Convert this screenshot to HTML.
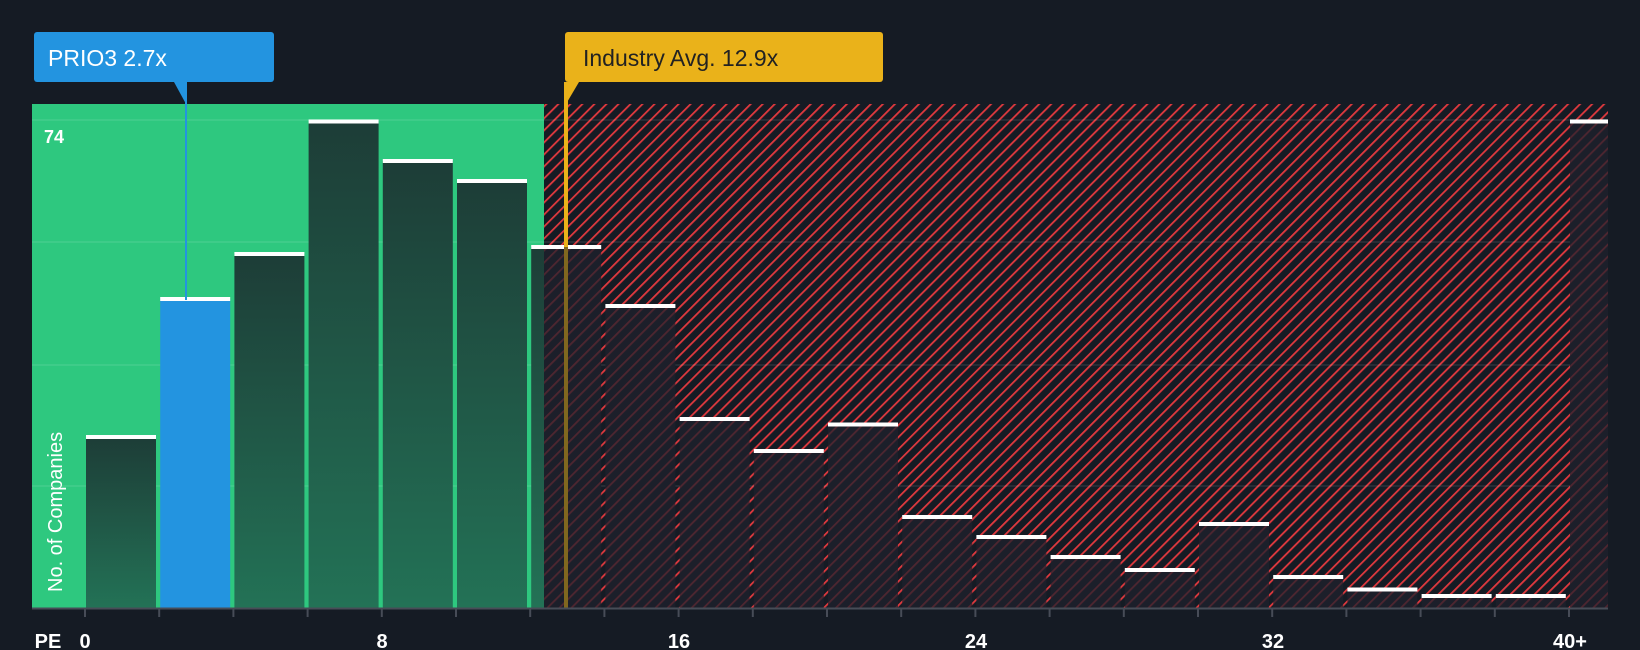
<!DOCTYPE html>
<html><head><meta charset="utf-8"><style>
body{margin:0;background:#151b24;}
svg{display:block;font-family:"Liberation Sans",sans-serif;}
</style></head><body>
<svg width="1640" height="650" viewBox="0 0 1640 650" xmlns="http://www.w3.org/2000/svg">
<defs>
<pattern id="h" patternUnits="userSpaceOnUse" width="8.5" height="8.5" patternTransform="rotate(45)">
<rect width="8.5" height="8.5" fill="#151b24"/><rect x="0" y="0" width="1.8" height="8.5" fill="#e0393e"/>
</pattern>
<pattern id="h2" patternUnits="userSpaceOnUse" width="8.5" height="8.5" patternTransform="rotate(45)">
<rect width="8.5" height="8.5" fill="#1c1f2a"/><rect x="0" y="0" width="1.8" height="8.5" fill="#4e2630"/>
</pattern>
<linearGradient id="g" x1="0" y1="0" x2="0" y2="1"><stop offset="0" stop-color="#1d3d37"/><stop offset="1" stop-color="#237256"/></linearGradient>
</defs>
<rect width="1640" height="650" fill="#151b24"/>
<rect x="32" y="104" width="512" height="504" fill="#2ec87f"/>
<rect x="544" y="104" width="1064" height="504" fill="url(#h)"/>
<g stroke="#ffffff" stroke-opacity="0.08" stroke-width="2">
<line x1="32" y1="120" x2="1608" y2="120"/><line x1="32" y1="242" x2="1608" y2="242"/><line x1="32" y1="365" x2="1608" y2="365"/><line x1="32" y1="486" x2="1608" y2="486"/>
</g>
<g>
<rect x="86" y="437" width="70" height="171" fill="url(#g)"/>
<rect x="160.2" y="299" width="70" height="309" fill="#2394e0"/>
<rect x="234.4" y="254" width="70" height="354" fill="url(#g)"/>
<rect x="308.6" y="121.5" width="70" height="486.5" fill="url(#g)"/>
<rect x="382.8" y="161" width="70" height="447" fill="url(#g)"/>
<rect x="457" y="181" width="70" height="427" fill="url(#g)"/>
<rect x="531.2" y="247" width="12.8" height="361" fill="url(#g)"/>
<rect x="544" y="247" width="57.2" height="361" fill="url(#h2)"/>
<rect x="605.4" y="306" width="70" height="302" fill="url(#h2)"/>
<rect x="679.6" y="419" width="70" height="189" fill="url(#h2)"/>
<rect x="753.8" y="451" width="70" height="157" fill="url(#h2)"/>
<rect x="828" y="424.5" width="70" height="183.5" fill="url(#h2)"/>
<rect x="902.2" y="517" width="70" height="91" fill="url(#h2)"/>
<rect x="976.4" y="537" width="70" height="71" fill="url(#h2)"/>
<rect x="1050.6" y="557" width="70" height="51" fill="url(#h2)"/>
<rect x="1124.8" y="570" width="70" height="38" fill="url(#h2)"/>
<rect x="1199" y="524" width="70" height="84" fill="url(#h2)"/>
<rect x="1273.2" y="577" width="70" height="31" fill="url(#h2)"/>
<rect x="1347.4" y="589.5" width="70" height="18.5" fill="url(#h2)"/>
<rect x="1421.6" y="596" width="70" height="12" fill="url(#h2)"/>
<rect x="1495.8" y="596" width="70" height="12" fill="url(#h2)"/>
<rect x="1570" y="121.5" width="38" height="486.5" fill="url(#h2)"/>
</g>
<g fill="#fff">
<rect x="86" y="435" width="70" height="4"/>
<rect x="160.2" y="297" width="70" height="4"/>
<rect x="234.4" y="252" width="70" height="4"/>
<rect x="308.6" y="119.5" width="70" height="4"/>
<rect x="382.8" y="159" width="70" height="4"/>
<rect x="457" y="179" width="70" height="4"/>
<rect x="531.2" y="245" width="70" height="4"/>
<rect x="605.4" y="304" width="70" height="4"/>
<rect x="679.6" y="417" width="70" height="4"/>
<rect x="753.8" y="449" width="70" height="4"/>
<rect x="828" y="422.5" width="70" height="4"/>
<rect x="902.2" y="515" width="70" height="4"/>
<rect x="976.4" y="535" width="70" height="4"/>
<rect x="1050.6" y="555" width="70" height="4"/>
<rect x="1124.8" y="568" width="70" height="4"/>
<rect x="1199" y="522" width="70" height="4"/>
<rect x="1273.2" y="575" width="70" height="4"/>
<rect x="1347.4" y="587.5" width="70" height="4"/>
<rect x="1421.6" y="594" width="70" height="4"/>
<rect x="1495.8" y="594" width="70" height="4"/>
<rect x="1570" y="119.5" width="38" height="4"/>
</g>
<line x1="186" y1="82" x2="186" y2="300" stroke="#2394e0" stroke-width="2"/>
<line x1="566" y1="82" x2="566" y2="608" stroke="#eab21a" stroke-width="4"/>
<line x1="566" y1="247" x2="566" y2="608" stroke="#151b24" stroke-opacity="0.5" stroke-width="4"/>
<rect x="34" y="32" width="240" height="50" rx="3" fill="#2394e0"/>
<polygon points="174,82 186,82 186,104" fill="#2394e0"/>
<text x="48" y="66" font-size="23" fill="#fff">PRIO3 2.7x</text>
<rect x="565" y="32" width="318" height="50" rx="3" fill="#eab21a"/>
<polygon points="565,82 579,82 566,104" fill="#eab21a"/>
<text x="583" y="66" font-size="23" fill="#222">Industry Avg. 12.9x</text>
<text x="44" y="143" font-size="18" font-weight="bold" fill="#fff">74</text>
<text transform="translate(62,592) rotate(-90)" font-size="20" fill="#fff">No. of Companies</text>
<line x1="32" y1="608.5" x2="1608" y2="608.5" stroke="#474c57" stroke-width="2"/>
<g stroke="#474c57" stroke-width="2">
<line x1="85" y1="608" x2="85" y2="617"/><line x1="159.2" y1="608" x2="159.2" y2="617"/><line x1="233.4" y1="608" x2="233.4" y2="617"/><line x1="307.6" y1="608" x2="307.6" y2="617"/><line x1="381.8" y1="608" x2="381.8" y2="617"/><line x1="456" y1="608" x2="456" y2="617"/><line x1="530.2" y1="608" x2="530.2" y2="617"/><line x1="604.4" y1="608" x2="604.4" y2="617"/><line x1="678.6" y1="608" x2="678.6" y2="617"/><line x1="752.8" y1="608" x2="752.8" y2="617"/><line x1="827" y1="608" x2="827" y2="617"/><line x1="901.2" y1="608" x2="901.2" y2="617"/><line x1="975.4" y1="608" x2="975.4" y2="617"/><line x1="1049.6" y1="608" x2="1049.6" y2="617"/><line x1="1123.8" y1="608" x2="1123.8" y2="617"/><line x1="1198" y1="608" x2="1198" y2="617"/><line x1="1272.2" y1="608" x2="1272.2" y2="617"/><line x1="1346.4" y1="608" x2="1346.4" y2="617"/><line x1="1420.6" y1="608" x2="1420.6" y2="617"/><line x1="1494.8" y1="608" x2="1494.8" y2="617"/><line x1="1569" y1="608" x2="1569" y2="617"/>
</g>
<g font-size="20" font-weight="bold" fill="#fff" text-anchor="middle">
<text x="48" y="648">PE</text><text x="85" y="648">0</text><text x="382" y="648">8</text><text x="679" y="648">16</text><text x="976" y="648">24</text><text x="1273" y="648">32</text><text x="1570" y="648">40+</text>
</g>
</svg>
</body></html>
